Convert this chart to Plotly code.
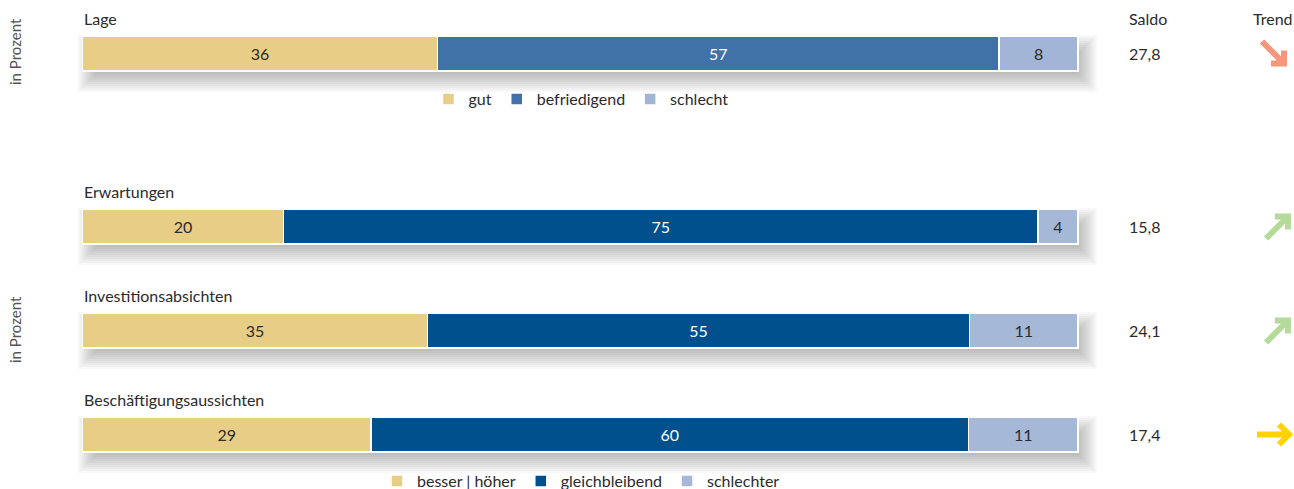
import plotly.graph_objects as go

# ---------------- data ----------------
top_categories = ["Lage"]
top_gut = [36]
top_befriedigend = [57]
top_schlecht = [8]
top_saldo = ["27,8"]
top_trend = ["down"]

bottom_categories = ["Erwartungen", "Investitionsabsichten", "Beschäftigungsaussichten"]
bottom_besser = [20, 35, 29]
bottom_gleich = [75, 55, 60]
bottom_schlechter = [4, 11, 11]
bottom_saldo = ["15,8", "24,1", "17,4"]
bottom_trend = ["up", "up", "flat"]

top_legend_names = ["gut", "befriedigend", "schlecht"]
bottom_legend_names = ["besser | höher", "gleichbleibend", "schlechter"]

# ---------------- styles ----------------
FONT = "Lato"
FS = 16
C_GUT = "#E8CD87"
C_BEFR = "#4071A7"
C_SCHL = "#A3B5D6"
C_GLEICH = "#00508D"
C_SCHLTER = "#A6B8D8"
TXT_DARK = "#2b2b2b"
# arrow glyph geometry (px offsets from the trend-column centre): tail, tip, arm1, arm2
ARROW = {
    "down": ("#F4977A", 1274, [(-12, -12), (10, 10), (10, -3), (-3, 10)]),
    "up": ("#B5DB9B", 1278, [(-12, 12), (10, -10), (10, 3), (-3, -10)]),
    "flat": ("#FFD200", 1275, [(-18, 0), (14, 0), (4, -10), (4, 10)]),
}

W, H = 1294, 500           # figure a bit taller than the 489px window (legend cut like original)
X0, X1 = 82.5, 1078        # bar extent in px
PXU = (X1 - X0) / 100      # px per x unit
XR = [-1.5, 106]
BAND = 104                 # px per category
BAR_PX = 35
TOP_CENTER = 53.5
BOTTOM_FIRST_CENTER = 226.5


def fy(px):
    return 1 - px / H


def fx(px):
    return px / W


fig = go.Figure()


def add_bar(cats, vals, name, color, txtcolor, xa, ya, legend):
    fig.add_trace(go.Bar(
        y=cats, x=vals, name=name, orientation="h",
        marker=dict(color=color, line=dict(color="white", width=1.5)),
        text=[str(v) for v in vals], textposition="inside",
        insidetextanchor="middle",
        textfont=dict(family=FONT, size=FS, color=txtcolor),
        xaxis=xa, yaxis=ya, legend=legend, hoverinfo="skip",
    ))


add_bar(top_categories, top_gut, top_legend_names[0], C_GUT, TXT_DARK, "x", "y", "legend")
add_bar(top_categories, top_befriedigend, top_legend_names[1], C_BEFR, "white", "x", "y", "legend")
add_bar(top_categories, top_schlecht, top_legend_names[2], C_SCHL, TXT_DARK, "x", "y", "legend")

add_bar(bottom_categories, bottom_besser, bottom_legend_names[0], C_GUT, TXT_DARK, "x2", "y2", "legend2")
add_bar(bottom_categories, bottom_gleich, bottom_legend_names[1], C_GLEICH, "white", "x2", "y2", "legend2")
add_bar(bottom_categories, bottom_schlechter, bottom_legend_names[2], C_SCHLTER, TXT_DARK, "x2", "y2", "legend2")

top_dom = [fy(TOP_CENTER + BAND / 2), fy(TOP_CENTER - BAND / 2)]
bot_dom = [fy(BOTTOM_FIRST_CENTER - BAND / 2 + BAND * len(bottom_categories)),
           fy(BOTTOM_FIRST_CENTER - BAND / 2)]
xdom = [fx(X0 + XR[0] * PXU), fx(X0 + XR[1] * PXU)]

annotations = []
shapes = []
half = (BAR_PX - 2) / 2 / BAND


def row_extras(cats, saldo, trend, xref, yref, sign, center0):
    for i, c in enumerate(cats):
        annotations.append(dict(x=0, y=c, xref=xref, yref=yref, text=c, showarrow=False,
                                xanchor="left", yanchor="middle", yshift=35,
                                font=dict(family=FONT, size=FS, color=TXT_DARK)))
        annotations.append(dict(x=fx(1127), y=c, xref="paper", yref=yref, text=saldo[i],
                                showarrow=False, xanchor="left", yanchor="middle",
                                font=dict(family=FONT, size=FS, color=TXT_DARK)))
        # trend arrow drawn as a thick open chevron arrow
        col, cx, pts = ARROW[trend[i]]
        cy = center0 + i * BAND
        (tx, ty), (hx, hy), (ax1, ay1), (ax2, ay2) = pts
        P = lambda dx, dy: f"{fx(cx + dx):.5f},{fy(cy + dy):.5f}"
        path = f"M{P(tx, ty)} L{P(hx, hy)} M{P(ax1, ay1)} L{P(hx, hy)} L{P(ax2, ay2)}"
        shapes.append(dict(type="path", xref="paper", yref="paper", path=path,
                           line=dict(color=col, width=6)))
        # soft blurred shadow (offset right/down)
        dx, dy = 7 / PXU, 10 / BAND
        for r in range(-10, 14, 2):
            rx = r / PXU
            ry = r / BAND
            shapes.append(dict(type="rect", xref=xref, yref=yref,
                               x0=0 + dx - rx, x1=100 + dx + rx,
                               y0=i + sign * (-half + dy - ry), y1=i + sign * (half + dy + ry),
                               fillcolor="rgba(0,0,0,0.026)",
                               line=dict(width=0), layer="below"))


row_extras(top_categories, top_saldo, top_trend, "x", "y", -1, TOP_CENTER)
row_extras(bottom_categories, bottom_saldo, bottom_trend, "x2", "y2", 1, BOTTOM_FIRST_CENTER)

annotations += [
    dict(x=fx(1127), y=fy(18), xref="paper", yref="paper", text="Saldo", showarrow=False,
         xanchor="left", yanchor="middle", font=dict(family=FONT, size=FS, color=TXT_DARK)),
    dict(x=fx(1273), y=fy(18), xref="paper", yref="paper", text="Trend", showarrow=False,
         xanchor="center", yanchor="middle", font=dict(family=FONT, size=FS, color=TXT_DARK)),
    dict(x=fx(15), y=fy(52), xref="paper", yref="paper", text="in Prozent", showarrow=False,
         textangle=-90, xanchor="center", yanchor="middle",
         font=dict(family=FONT, size=15, color="#555555")),
    dict(x=fx(15), y=fy(330), xref="paper", yref="paper", text="in Prozent", showarrow=False,
         textangle=-90, xanchor="center", yanchor="middle",
         font=dict(family=FONT, size=15, color="#555555")),
]

axis_hidden = dict(showgrid=False, zeroline=False, showticklabels=False, showline=False, ticks="")

fig.update_layout(
    width=W, height=H,
    margin=dict(l=0, r=0, t=0, b=0),
    paper_bgcolor="white", plot_bgcolor="rgba(0,0,0,0)",
    barmode="stack", barnorm="percent",
    bargap=1 - BAR_PX / BAND,
    xaxis=dict(domain=xdom, range=XR, anchor="y", fixedrange=True, **axis_hidden),
    yaxis=dict(domain=top_dom, anchor="x", type="category", **axis_hidden),
    xaxis2=dict(domain=xdom, range=XR, anchor="y2", fixedrange=True, **axis_hidden),
    yaxis2=dict(domain=bot_dom, anchor="x2", type="category", autorange="reversed",
                categoryorder="array", categoryarray=bottom_categories, **axis_hidden),
    legend=dict(orientation="h", x=fx(581), xanchor="center", y=fy(99),
                yanchor="middle", font=dict(family=FONT, size=FS, color=TXT_DARK),
                bgcolor="rgba(0,0,0,0)", traceorder="normal"),
    legend2=dict(orientation="h", x=fx(581), xanchor="center", y=fy(481),
                 yanchor="middle", font=dict(family=FONT, size=FS, color=TXT_DARK),
                 bgcolor="rgba(0,0,0,0)", traceorder="normal"),
    annotations=annotations,
    shapes=shapes,
)

fig.write_html("out.html", config={"displayModeBar": False},
               post_script="document.body.style.margin='0';document.body.style.overflow='hidden';")
